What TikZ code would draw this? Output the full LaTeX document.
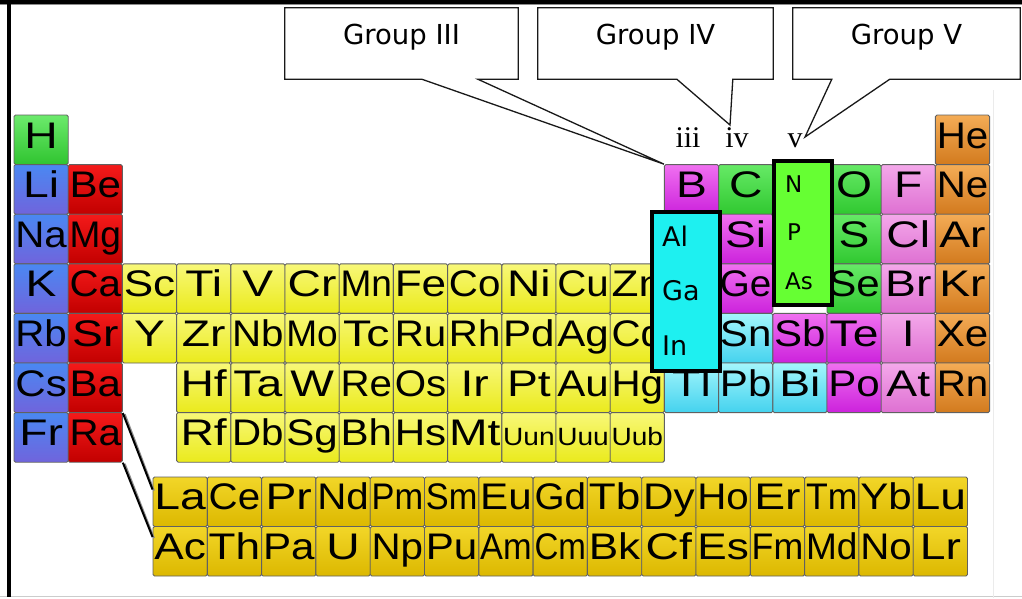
\documentclass[tikz,border=0pt]{standalone}
\usepackage{fontspec}
\usepackage{graphicx}
\usetikzlibrary{calc}
\newfontfamily\elfont{Liberation Sans}
\newfontfamily\grpfont{DejaVu Sans}
\newfontfamily\romfont{Liberation Serif}
\newlength\elw
\newcommand\elsym[1]{\settowidth{\elw}{#1}\pgfmathsetmacro\elsc{min(1.25,51.5/\elw)}\scalebox{\elsc}[1]{#1}}
\newcommand\elsmall[1]{{\fontsize{25}{28}\selectfont\elsym{#1}}}
\definecolor{hydA}{HTML}{6CEA6C}\definecolor{hydB}{HTML}{30C430}
\definecolor{alkA}{HTML}{4A88F2}\definecolor{alkB}{HTML}{7064DC}
\definecolor{aleA}{HTML}{F41A1A}\definecolor{aleB}{HTML}{C20000}
\definecolor{trA}{HTML}{F8F878}\definecolor{trB}{HTML}{EAEA1C}
\definecolor{lnA}{HTML}{F2D628}\definecolor{lnB}{HTML}{DCB800}
\definecolor{magA}{HTML}{F070F0}\definecolor{magB}{HTML}{CC22DC}
\definecolor{grnA}{HTML}{66EA66}\definecolor{grnB}{HTML}{30C830}
\definecolor{halA}{HTML}{F4A8EA}\definecolor{halB}{HTML}{DE70D2}
\definecolor{nobA}{HTML}{F4AC56}\definecolor{nobB}{HTML}{D27A1E}
\definecolor{cyA}{HTML}{A4F6FC}\definecolor{cyB}{HTML}{44D2EE}
\definecolor{boxcyan}{HTML}{1EF0F0}
\definecolor{boxgreen}{HTML}{66FF33}
\tikzset{
  elcell/.style={draw=black!62, line width=0.9pt, rounded corners=1.5pt,
    minimum width=54.2pt, minimum height=49.6pt, inner sep=0pt,
    font=\elfont\fontsize{37}{42}\selectfont, text height=26pt, text depth=9.6pt},
  lcell/.style={elcell, minimum width=54.3pt, minimum height=49.5pt},
  hyd/.style={top color=hydA, bottom color=hydB},
  alk/.style={top color=alkA, bottom color=alkB},
  ale/.style={top color=aleA, bottom color=aleB},
  trn/.style={top color=trA, bottom color=trB},
  lan/.style={top color=lnA, bottom color=lnB},
  mag/.style={top color=magA, bottom color=magB},
  grn/.style={top color=grnA, bottom color=grnB},
  hal/.style={top color=halA, bottom color=halB},
  nob/.style={top color=nobA, bottom color=nobB},
  cya/.style={top color=cyA, bottom color=cyB},
  grpbox/.style={minimum height=71pt, inner sep=0pt, font=\grpfont\fontsize{27.5}{30}\selectfont, text height=20pt, text depth=19pt},
  callout/.style={draw=black!90, line width=1.3pt, line join=miter},
  roman/.style={anchor=base, inner sep=0pt, font=\romfont\fontsize{30}{34}\selectfont},
  hilite/.style={draw=black, line width=4pt, inner sep=0pt},
  boxtext/.style={anchor=base west, inner sep=0pt, font=\grpfont\fontsize{27}{30}\selectfont},
  boxtextsm/.style={anchor=base west, inner sep=0pt, font=\grpfont\fontsize{23}{26}\selectfont},
  linkline/.style={draw=black, line width=2pt},
  linkshadow/.style={draw=black!45, line width=1.6pt}
}
\newcommand\el[4]{\node[elcell,#4] (#3) at ({14+(#1-0.5)*54.2},{115+(#2-0.5)*49.6}) {\elsym{#3}};}
\newcommand\elu[3]{\node[elcell,trn] (#3) at ({14+(#1-0.5)*54.2},{115+(#2-0.5)*49.6}) {\elsmall{#3}};}
\newcommand\lnc[3]{\node[lcell,lan] (#3) at ({153+(#1-0.5)*54.3},{#2}) {\elsym{#3}};}
\begin{document}
\begin{tikzpicture}[x=1pt,y=-1pt]
\useasboundingbox (0,0) rectangle (1022,598);
\fill[white] (0,0) rectangle (1022,598);
% frame
\draw[black!20, line width=0.8pt] (0,596.8) -- (1022,596.8);
\draw[black!8, line width=0.8pt] (993,90) -- (993,598);
\draw[black!45, line width=0.8pt] (0,4.6) -- (1022,4.6);
\draw[black, line width=3.6pt] (0,1.8) -- (1022,1.8);
\draw[black, line width=4pt] (9,0) -- (9,597);
% row 1
\el{1}{1}{H}{hyd}\el{18}{1}{He}{nob}
% row 2
\el{1}{2}{Li}{alk}\el{2}{2}{Be}{ale}\el{13}{2}{B}{mag}\el{14}{2}{C}{grn}
\el{16}{2}{O}{grn}\el{17}{2}{F}{hal}\el{18}{2}{Ne}{nob}
% row 3
\el{1}{3}{Na}{alk}\el{2}{3}{Mg}{ale}\el{14}{3}{Si}{mag}
\el{16}{3}{S}{grn}\el{17}{3}{Cl}{hal}\el{18}{3}{Ar}{nob}
% row 4
\el{1}{4}{K}{alk}\el{2}{4}{Ca}{ale}\el{3}{4}{Sc}{trn}\el{4}{4}{Ti}{trn}
\el{5}{4}{V}{trn}\el{6}{4}{Cr}{trn}\el{7}{4}{Mn}{trn}\el{8}{4}{Fe}{trn}
\el{9}{4}{Co}{trn}\el{10}{4}{Ni}{trn}\el{11}{4}{Cu}{trn}\el{12}{4}{Zn}{trn}
\el{14}{4}{Ge}{mag}\el{16}{4}{Se}{grn}\el{17}{4}{Br}{hal}\el{18}{4}{Kr}{nob}
% row 5
\el{1}{5}{Rb}{alk}\el{2}{5}{Sr}{ale}\el{3}{5}{Y}{trn}\el{4}{5}{Zr}{trn}
\el{5}{5}{Nb}{trn}\el{6}{5}{Mo}{trn}\el{7}{5}{Tc}{trn}\el{8}{5}{Ru}{trn}
\el{9}{5}{Rh}{trn}\el{10}{5}{Pd}{trn}\el{11}{5}{Ag}{trn}\el{12}{5}{Cd}{trn}
\el{14}{5}{Sn}{cya}\el{15}{5}{Sb}{mag}\el{16}{5}{Te}{mag}\el{17}{5}{I}{hal}\el{18}{5}{Xe}{nob}
% row 6
\el{1}{6}{Cs}{alk}\el{2}{6}{Ba}{ale}\el{4}{6}{Hf}{trn}\el{5}{6}{Ta}{trn}
\el{6}{6}{W}{trn}\el{7}{6}{Re}{trn}\el{8}{6}{Os}{trn}\el{9}{6}{Ir}{trn}
\el{10}{6}{Pt}{trn}\el{11}{6}{Au}{trn}\el{12}{6}{Hg}{trn}\el{13}{6}{Tl}{cya}
\el{14}{6}{Pb}{cya}\el{15}{6}{Bi}{cya}\el{16}{6}{Po}{mag}\el{17}{6}{At}{hal}\el{18}{6}{Rn}{nob}
% row 7
\el{1}{7}{Fr}{alk}\el{2}{7}{Ra}{ale}\el{4}{7}{Rf}{trn}\el{5}{7}{Db}{trn}
\el{6}{7}{Sg}{trn}\el{7}{7}{Bh}{trn}\el{8}{7}{Hs}{trn}\el{9}{7}{Mt}{trn}
\elu{10}{7}{Uun}\elu{11}{7}{Uuu}\elu{12}{7}{Uub}
% lanthanides / actinides
\lnc{1}{501.75}{La}\lnc{2}{501.75}{Ce}\lnc{3}{501.75}{Pr}\lnc{4}{501.75}{Nd}
\lnc{5}{501.75}{Pm}\lnc{6}{501.75}{Sm}\lnc{7}{501.75}{Eu}\lnc{8}{501.75}{Gd}
\lnc{9}{501.75}{Tb}\lnc{10}{501.75}{Dy}\lnc{11}{501.75}{Ho}\lnc{12}{501.75}{Er}
\lnc{13}{501.75}{Tm}\lnc{14}{501.75}{Yb}\lnc{15}{501.75}{Lu}
\lnc{1}{551.25}{Ac}\lnc{2}{551.25}{Th}\lnc{3}{551.25}{Pa}\lnc{4}{551.25}{U}
\lnc{5}{551.25}{Np}\lnc{6}{551.25}{Pu}\lnc{7}{551.25}{Am}\lnc{8}{551.25}{Cm}
\lnc{9}{551.25}{Bk}\lnc{10}{551.25}{Cf}\lnc{11}{551.25}{Es}\lnc{12}{551.25}{Fm}
\lnc{13}{551.25}{Md}\lnc{14}{551.25}{No}\lnc{15}{551.25}{Lr}
% links Ba/Ra -> La/Ac
\coordinate (laend) at ($(La.north west)+(0,13)$);
\coordinate (acend) at ($(Ac.north west)+(0,11)$);
\draw[linkshadow] ($(Ba.south east)+(2,1)$) -- ($(laend)+(1.5,1)$);
\draw[linkshadow] ($(Ra.south east)+(2,1)$) -- ($(acend)+(1.5,1)$);
\draw[linkline] (Ba.south east) -- (laend);
\draw[linkline] (Ra.south east) -- (acend);
% highlight boxes
\node[hilite, fill=boxcyan, minimum width=68pt, minimum height=159pt] (boxIII) at (686,291.5) {};
\node[boxtext] (Al) at (662,246) {Al};
\node[boxtext] (Ga) at (662,300) {Ga};
\node[boxtext] (In) at (662,355) {In};
\node[hilite, fill=boxgreen, minimum width=58pt, minimum height=144pt] (boxV) at (803,233) {};
\node[boxtextsm] (N) at (785,192) {N};
\node[boxtextsm] (P) at (787,240) {P};
\node[boxtextsm] (As) at (785,289) {As};
% roman labels
\node[roman] (iii) at (688,147) {iii};
\node[roman] (iv) at (737,147) {iv};
\node[roman] (v) at (795,147) {v};
\coordinate (tipIV) at (730,125);
\coordinate (tipV) at (805,137);
% callouts
\node[grpbox, minimum width=233pt] (g3) at (401.5,43.5) {Group III};
\node[grpbox, minimum width=235pt] (g4) at (655.5,43.5) {Group IV};
\node[grpbox, minimum width=227pt] (g5) at (906.5,43.5) {Group V};
\draw[callout] (g3.south west) -- (g3.north west) -- (g3.north east) -- (g3.south east)
  -- ($(g3.south west)+(193,0)$) -- (B.north west) -- ($(g3.south west)+(137,0)$) -- cycle;
\draw[callout] (g4.south west) -- (g4.north west) -- (g4.north east) -- (g4.south east)
  -- ($(g4.south west)+(195,0)$) -- (tipIV) -- ($(g4.south west)+(139,0)$) -- cycle;
\draw[callout] (g5.south west) -- (g5.north west) -- (g5.north east) -- (g5.south east)
  -- ($(g5.south west)+(97,0)$) -- (tipV) -- ($(g5.south west)+(39,0)$) -- cycle;
\end{tikzpicture}
\end{document}
